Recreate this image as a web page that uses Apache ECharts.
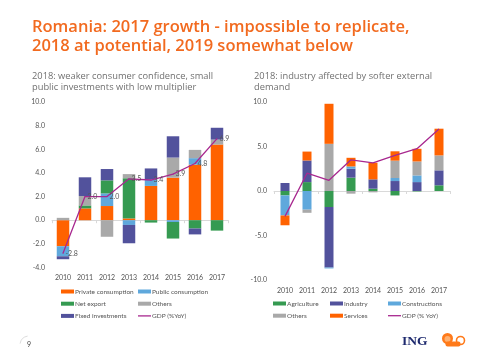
<!DOCTYPE html>
<html>
<head>
<meta charset="utf-8">
<script src="https://cdn.jsdelivr.net/npm/echarts@6/dist/echarts.min.js"></script>
<style>html,body{margin:0;padding:0;background:#fff;}#c{width:480px;height:360px;}</style>
</head>
<body>
<div id="c"></div>
<script>
// Categories
var years = ['2010','2011','2012','2013','2014','2015','2016','2017'];

// Left chart: GDP by expenditure (pp contribution)
var privateCons = [-2.2, 1.0, 1.2, 0.15, 2.9, 3.6, 4.7, 6.4];
var publicCons  = [-0.85, 0, 1.07, -0.4, 0.55, -0.15, 0.55, 0];
var netExport   = [0, 0.25, 1.1, 3.4, -0.2, -1.4, -0.7, -0.88];
var othersL     = [0.2, 0.8, -1.4, 0.35, 0, 1.7, 0.7, 0.42];
var fixedInv    = [-0.25, 1.58, 0.96, -1.55, 0.93, 1.8, -0.5, 1.0];
var gdpL        = [-2.8, 2.0, 2.0, 3.5, 3.4, 3.9, 4.8, 6.9];

// Right chart: GDP by sector (pp contribution)
var agriculture = [-0.5, 1.0, -1.8, 1.5, 0.26, -0.5, -0.05, 0.64];
var industry    = [0.9, 2.43, -6.8, 1.0, 1.05, 1.12, 1.0, 1.68];
var construct   = [-2.25, -2.1, -0.1, 0.26, 0, 0.34, 0.75, 0];
var othersR     = [0, -0.35, 5.3, -0.3, -0.15, 1.95, 1.57, 1.68];
var services    = [-1.1, 1.0, 4.5, 0.97, 1.87, 1.05, 1.42, 3.0];
var gdpR        = [-2.85, 2.0, 1.2, 3.5, 3.15, 4.0, 4.75, 6.97];

// Axis ticks
var leftTicks = {min: -4, max: 10, interval: 2};
var rightTicks = {min: -10, max: 10, interval: 5};

var C = {orange:'#FF6200', lblue:'#5FA8DC', green:'#359A51', gray:'#A9A9A9', dblue:'#52529C', line:'#A8288F'};
var FONT = 'Lato';
var txt = '#555';

function labelAxis(grid){
  return {type:'category', data:years, gridIndex:grid, position:'bottom',
    axisLine:{show:false, onZero:false}, axisTick:{show:false},
    axisLabel:{fontSize:7, color:txt, fontFamily:FONT, margin:7}};
}
function zeroAxis(grid){
  return {type:'category', data:years, gridIndex:grid, position:'top',
    axisLine:{show:true, onZero:true, lineStyle:{color:'#D9D9D9', width:1}},
    axisTick:{show:true, inside:true, length:3, lineStyle:{color:'#D9D9D9'}},
    axisLabel:{show:false}};
}
function yAxis(grid, t){
  return {type:'value', gridIndex:grid, min:t.min, max:t.max, interval:t.interval,
    axisLine:{show:false}, axisTick:{show:false}, splitLine:{show:false},
    axisLabel:{fontSize:7, color:txt, fontFamily:FONT, margin:7, formatter:function(v){return v.toFixed(1);}}};
}
function bar(name, data, color, xi, yi, stack, w){
  return {type:'bar', name:name, data:data, xAxisIndex:xi, yAxisIndex:yi, stack:stack,
    barWidth:w, itemStyle:{color:color}, emphasis:{disabled:true}};
}
function legend(left, top, names){
  return {left:left, top:top, orient:'vertical', itemWidth:13, itemHeight:4, itemGap:5.2,
    textStyle:{fontSize:6.5, color:txt, fontFamily:FONT, padding:[0,0,0,-4]},
    data:names.map(function(n){ return n.indexOf('GDP')===0 ? {name:n, icon:'path://M0,0L10,0L10,1L0,1Z'} : {name:n, icon:'rect'}; })};
}

var chart = echarts.init(document.getElementById('c'), null, {renderer:'canvas'});
chart.setOption({
  animation:false,
  backgroundColor:'#fff',
  title:[
    {text:'Romania: 2017 growth - impossible to replicate,\n2018 at potential, 2019 somewhat below', left:27, top:13,
      textStyle:{fontSize:16.5, lineHeight:19, color:'#F26A1F', fontFamily:'Open Sans', fontWeight:600}},
    {text:'2018: weaker consumer confidence, small\npublic investments with low multiplier', left:27, top:66,
      textStyle:{fontSize:9.3, lineHeight:11, color:'#707070', fontFamily:'Open Sans', fontWeight:'normal'}},
    {text:'2018: industry affected by softer external\ndemand', left:249, top:66,
      textStyle:{fontSize:9.3, lineHeight:11, color:'#707070', fontFamily:'Open Sans', fontWeight:'normal'}}
  ],
  grid:[
    {left:52, top:102, width:176, height:165.5},
    {left:274, top:102, width:176, height:178}
  ],
  xAxis:[labelAxis(0), zeroAxis(0), labelAxis(1), zeroAxis(1)],
  yAxis:[yAxis(0, leftTicks), yAxis(1, rightTicks)],
  legend:[
    legend(56, 283, ['Private consumption','Net export','Fixed investments']),
    legend(133, 283, ['Public consumption','Others','GDP (%YoY)']),
    legend(268, 295, ['Agriculture','Others ']),
    legend(325, 295, ['Industry','Services']),
    legend(383, 295, ['Constructions','GDP (% YoY)'])
  ],
  series:[
    bar('Private consumption', privateCons, C.orange, 0, 0, 'L', 12.5),
    bar('Public consumption', publicCons, C.lblue, 0, 0, 'L', 12.5),
    bar('Net export', netExport, C.green, 0, 0, 'L', 12.5),
    bar('Others', othersL, C.gray, 0, 0, 'L', 12.5),
    bar('Fixed investments', fixedInv, C.dblue, 0, 0, 'L', 12.5),
    {type:'line', name:'GDP (%YoY)', data:gdpL, xAxisIndex:0, yAxisIndex:0, symbol:'circle', symbolSize:1,
      lineStyle:{color:C.line, width:1.3}, itemStyle:{color:C.line}, z:5,
      label:{show:true, position:'right', distance:2, fontSize:7, color:txt, fontFamily:FONT,
        formatter:function(p){return p.value.toFixed(1);}}},
    bar('Agriculture', agriculture, C.green, 2, 1, 'R', 9),
    bar('Industry', industry, C.dblue, 2, 1, 'R', 9),
    bar('Constructions', construct, C.lblue, 2, 1, 'R', 9),
    bar('Others ', othersR, C.gray, 2, 1, 'R', 9),
    bar('Services', services, C.orange, 2, 1, 'R', 9),
    {type:'line', name:'GDP (% YoY)', data:gdpR, xAxisIndex:2, yAxisIndex:1, symbol:'none',
      lineStyle:{color:C.line, width:1.3}, itemStyle:{color:C.line}, z:5}
  ],
  graphic:[
    {type:'arc', shape:{cx:29, cy:345, r:9, startAngle:Math.PI*1.05, endAngle:Math.PI*1.45}, style:{stroke:'#DDD', lineWidth:1, fill:null}},
    {type:'text', left:27, top:341, style:{text:'9', fontSize:7, fill:'#444', fontFamily:FONT}},
    {type:'text', left:402, top:335, style:{text:'ING', fontSize:13.5, fontWeight:'bold', fill:'#1E2A6E', fontFamily:'Liberation Serif'}},
    {type:'group', left:442, top:333, children:[
      {type:'circle', shape:{cx:6, cy:6, r:5.5}, style:{fill:'#FF7A1A'}},
      {type:'circle', shape:{cx:6, cy:6.5, r:3}, style:{fill:'#FFB070'}},
      {type:'rect', shape:{x:4, y:9, width:15, height:5, r:2}, style:{fill:'#FF7A1A'}},
      {type:'circle', shape:{cx:19, cy:8, r:4}, style:{fill:'none', stroke:'#FF7A1A', lineWidth:1.6}}
    ]}
  ]
});
</script>
</body>
</html>
